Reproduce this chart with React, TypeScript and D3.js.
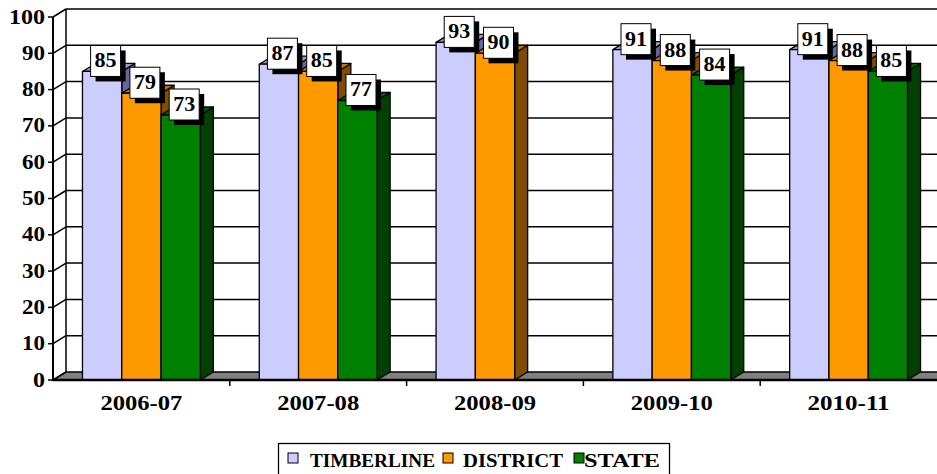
import React from "react";
import * as d3 from "d3";

const categories = ["2006-07", "2007-08", "2008-09", "2009-10", "2010-11"];
const seriesNames = ["TIMBERLINE", "DISTRICT", "STATE"];
const timberline = [85, 87, 93, 91, 91];
const district = [79, 85, 90, 88, 88];
const state: (number | null)[] = [73, 77, null, 84, 85];
const yTicks = [0, 10, 20, 30, 40, 50, 60, 70, 80, 90, 100];

const frontColors = ["#CCCCFF", "#FF9900", "#008000"];
const topColors = ["#9a9ac0", "#c27400", "#006000"];
const sideColors = ["#66669a", "#7f4c00", "#004000"];

const W = 937;
const H = 474;
const DX = 13;
const DY = -8;
const FONT = "Liberation Serif";

export default function App() {
  const series = [timberline, district, state];
  const x0 = 53;
  const x1 = 937;
  const y = d3.scaleLinear().domain([0, 100]).range([380, 17]);
  const band = d3.scaleBand<string>().domain(categories).range([x0, x1]).paddingInner(0).paddingOuter(0);
  const inner = d3
    .scaleBand<string>()
    .domain(seriesNames)
    .range([0, band.bandwidth()])
    .paddingOuter(0.75)
    .paddingInner(0);

  const bars: JSX.Element[] = [];
  const labels: JSX.Element[] = [];
  categories.forEach((c, ci) => {
    seriesNames.forEach((s, si) => {
      const v = series[si][ci];
      if (v == null) return;
      const bx0 = (band(c) as number) + (inner(s) as number);
      const bx1 = bx0 + inner.bandwidth();
      const yt = y(v);
      const yb = y(0);
      bars.push(
        <g key={`b-${ci}-${si}`} stroke="#000" strokeWidth={1.3} strokeLinejoin="round">
          <polygon
            points={`${bx1},${yt} ${bx1 + DX},${yt + DY} ${bx1 + DX},${yb + DY} ${bx1},${yb}`}
            fill={sideColors[si]}
          />
          <polygon
            points={`${bx0},${yt} ${bx0 + DX},${yt + DY} ${bx1 + DX},${yt + DY} ${bx1},${yt}`}
            fill={topColors[si]}
          />
          <rect x={bx0} y={yt} width={bx1 - bx0} height={yb - yt} fill={frontColors[si]} />
        </g>
      );
      const cx = (bx0 + bx1) / 2 + 3.5;
      const cy = yt - 10.5;
      const bw = 30;
      const bh = 31;
      labels.push(
        <g key={`l-${ci}-${si}`}>
          <rect x={cx - bw / 2 + 5} y={cy - bh / 2 + 5} width={bw} height={bh} fill="#000" />
          <rect x={cx - bw / 2} y={cy - bh / 2} width={bw} height={bh} fill="#fff" stroke="#000" strokeWidth={1} />
          <text
            x={cx}
            y={cy + 6.5}
            textAnchor="middle"
            fontFamily={FONT}
            fontWeight="bold"
            fontSize={20}
            textLength={22}
            lengthAdjust="spacingAndGlyphs"
            fill="#000"
          >
            {v}
          </text>
        </g>
      );
    });
  });

  const legendItems = [
    { name: seriesNames[0], sq: 288, tx: 310, tw: 125 },
    { name: seriesNames[1], sq: 443, tx: 463, tw: 100 },
    { name: seriesNames[2], sq: 574, tx: 584, tw: 76 },
  ];

  return (
    <svg
      width={W}
      height={H}
      viewBox={`0 0 ${W} ${H}`}
      style={{ position: "absolute", left: 0, top: 0, background: "#fff" }}
    >
      {/* floor */}
      <polygon
        points={`${x0},${y(0)} ${x1 + 20},${y(0)} ${x1 + 20 + DX},${y(0) + DY} ${x0 + DX},${y(0) + DY}`}
        fill="#808080"
        stroke="#000"
        strokeWidth={1.3}
      />
      {/* back wall gridlines and side wall */}
      {yTicks.map((t) => (
        <g key={`g-${t}`} stroke="#000" strokeWidth={1.5}>
          {t > 0 && <line x1={x0 + DX} x2={x1 + 20} y1={y(t) + DY} y2={y(t) + DY} />}
          <line x1={x0} x2={x0 + DX} y1={y(t)} y2={y(t) + DY} />
        </g>
      ))}
      <line x1={x0 + DX} x2={x0 + DX} y1={y(100) + DY} y2={y(0) + DY} stroke="#000" strokeWidth={1.5} />
      {bars}
      {/* front axis */}
      <line x1={x0} x2={x0} y1={y(100)} y2={y(0)} stroke="#000" strokeWidth={2} />
      <line x1={x0} x2={x1 + 20} y1={y(0)} y2={y(0)} stroke="#000" strokeWidth={2.5} />
      {yTicks.map((t) => (
        <g key={`t-${t}`}>
          <line x1={x0 - 5} x2={x0} y1={y(t)} y2={y(t)} stroke="#000" strokeWidth={1.5} />
          <text
            x={45}
            y={y(t) + 6.5}
            textAnchor="end"
            fontFamily={FONT}
            fontWeight="bold"
            fontSize={20}
            textLength={t === 100 ? 36 : t === 0 ? 12 : 23}
            lengthAdjust="spacingAndGlyphs"
            fill="#000"
          >
            {t}
          </text>
        </g>
      ))}
      {categories.map((c, i) => (
        <g key={`c-${c}`}>
          {i > 0 && (
            <line
              x1={band(c) as number}
              x2={band(c) as number}
              y1={y(0)}
              y2={y(0) + 6}
              stroke="#000"
              strokeWidth={1.5}
            />
          )}
          <text
            x={(band(c) as number) + band.bandwidth() / 2}
            y={410}
            textAnchor="middle"
            fontFamily={FONT}
            fontWeight="bold"
            fontSize={21}
            textLength={82}
            lengthAdjust="spacingAndGlyphs"
            fill="#000"
          >
            {c}
          </text>
        </g>
      ))}
      {labels}
      {/* legend */}
      <rect x={278.5} y={443.5} width={391} height={40} fill="#fff" stroke="#000" strokeWidth={1.3} />
      {legendItems.map((it, i) => (
        <g key={`lg-${i}`}>
          <rect x={it.sq} y={453} width={10} height={10} fill={frontColors[i]} stroke="#000" strokeWidth={1} />
          <text
            x={it.tx}
            y={467}
            fontFamily={FONT}
            fontWeight="bold"
            fontSize={18.5}
            textLength={it.tw}
            lengthAdjust="spacingAndGlyphs"
            fill="#000"
          >
            {it.name}
          </text>
        </g>
      ))}
    </svg>
  );
}
